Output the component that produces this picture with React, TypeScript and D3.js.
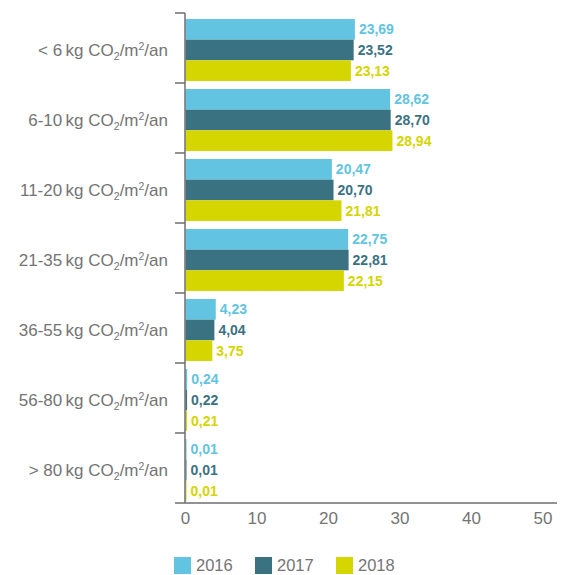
import React, { useEffect, useRef } from 'react';
import { select, scaleLinear, scaleBand, axisBottom } from 'd3';

const categories = ['< 6', '6-10', '11-20', '21-35', '36-55', '56-80', '> 80'];
const years = ['2016', '2017', '2018'];
const values2016 = [23.69, 28.62, 20.47, 22.75, 4.23, 0.24, 0.01];
const values2017 = [23.52, 28.70, 20.70, 22.81, 4.04, 0.22, 0.01];
const values2018 = [23.13, 28.94, 21.81, 22.15, 3.75, 0.21, 0.01];
const xTicks = [0, 10, 20, 30, 40, 50];

const colors = ['#62c4e0', '#3b7282', '#d5d500'];
const textGray = '#747474';
const axisGray = '#6e6e6e';
const font = '"Liberation Sans", Arial, sans-serif';

const dimensions = {
  width: 565,
  height: 575,
  axisX: 185,
  top: 13,
  bottom: 503,
};

const App: React.FC = () => {
  const svgRef = useRef<SVGSVGElement | null>(null);

  useEffect(() => {
    const svg = select(svgRef.current);
    svg.selectAll('*').remove();

    const series = [values2016, values2017, values2018];

    const x = scaleLinear().domain([0, 50]).range([dimensions.axisX, 542.5]);
    const y = scaleBand().domain(categories).range([dimensions.top, dimensions.bottom]);
    const inner = scaleBand().domain(years).range([6, 68]);

    // bars + value labels
    categories.forEach((cat, i) => {
      const g = svg.append('g').attr('transform', `translate(0, ${y(cat)})`);
      years.forEach((yr, s) => {
        const v = series[s][i];
        const w = Math.max(x(v) - x(0), 1);
        g.append('rect')
          .attr('x', x(0) + 0.5)
          .attr('y', inner(yr)!)
          .attr('width', w)
          .attr('height', inner.bandwidth())
          .attr('fill', colors[s]);
        g.append('text')
          .attr('x', x(0) + 0.5 + w + 4)
          .attr('y', inner(yr)! + inner.bandwidth() / 2)
          .attr('dy', '0.36em')
          .attr('font-family', font)
          .attr('font-weight', 'bold')
          .attr('font-size', 14)
          .attr('fill', colors[s])
          .text(v.toFixed(2).replace('.', ','));
      });

      // category label
      const label = svg.append('text')
        .attr('x', 168)
        .attr('y', y(cat)! + y.bandwidth() / 2 + 8)
        .attr('text-anchor', 'end')
        .attr('font-family', font)
        .attr('font-size', 17)
        .attr('fill', textGray);
      label.append('tspan').text(`${cat}\u2009kg CO`);
      label.append('tspan').attr('font-size', 10.5).attr('dy', 4).text('2');
      label.append('tspan').attr('dy', -4).text('/m');
      label.append('tspan').attr('font-size', 10.5).attr('dy', -6).text('2');
      label.append('tspan').attr('dy', 6).text('/an');
    });

    // y axis
    svg.append('line')
      .attr('x1', dimensions.axisX).attr('x2', dimensions.axisX)
      .attr('y1', dimensions.top).attr('y2', dimensions.bottom)
      .attr('stroke', axisGray).attr('stroke-width', 1.5);
    svg.selectAll('.ytick')
      .data(categories)
      .enter()
      .append('line')
      .attr('x1', 175).attr('x2', dimensions.axisX)
      .attr('y1', d => y(d)!).attr('y2', d => y(d)!)
      .attr('stroke', axisGray).attr('stroke-width', 1.5);

    // x axis
    const xAxis = axisBottom(x).tickValues(xTicks).tickSize(0).tickPadding(9);
    const xg = svg.append('g')
      .attr('transform', `translate(0, ${dimensions.bottom})`)
      .call(xAxis);
    xg.select('.domain').remove();
    xg.selectAll('text')
      .attr('font-family', font)
      .attr('font-size', 17)
      .attr('fill', textGray);
    svg.append('line')
      .attr('x1', 175).attr('x2', 557)
      .attr('y1', dimensions.bottom).attr('y2', dimensions.bottom)
      .attr('stroke', axisGray).attr('stroke-width', 1.5);

    // legend
    const legendX = [174, 255, 336];
    years.forEach((yr, s) => {
      svg.append('rect')
        .attr('x', legendX[s]).attr('y', 557)
        .attr('width', 17).attr('height', 17)
        .attr('fill', colors[s]);
      svg.append('text')
        .attr('x', legendX[s] + 22)
        .attr('y', 571)
        .attr('font-family', font)
        .attr('font-size', 16.5)
        .attr('fill', textGray)
        .text(yr);
    });
  }, []);

  return (
    <svg
      ref={svgRef}
      width={dimensions.width}
      height={dimensions.height}
      style={{ position: 'absolute', left: 0, top: 0 }}
    />
  );
};

export default App;
